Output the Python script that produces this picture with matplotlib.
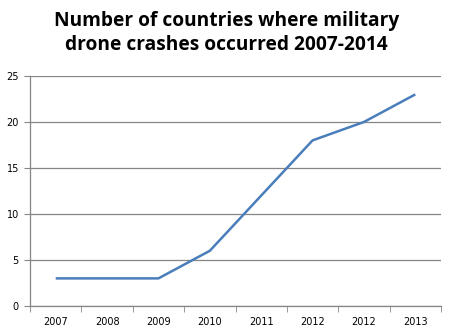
import numpy as np
import matplotlib
matplotlib.use('Agg')
import matplotlib.pyplot as plt

years = ['2007', '2008', '2009', '2010', '2011', '2012', '2012', '2013']
countries = [3, 3, 3, 6, 12, 18, 20, 23]

fig = plt.figure(figsize=(4.5, 3.35), dpi=100)
ax = fig.add_axes([0.0667, 0.0866, 0.9133, 0.6866])

x = np.arange(len(years))
ax.plot(x, countries, color='#4a7ebb', linewidth=1.8, solid_capstyle='butt')

ax.set_xlim(-0.5, len(years) - 0.5)
ax.set_ylim(0, 25)
ax.set_yticks(range(0, 26, 5))
ax.yaxis.grid(True, color='#868686', linewidth=0.9)
ax.set_axisbelow(True)

ax.set_xticks(x)
ax.set_xticklabels(years)
ax.set_xticks(np.arange(-0.5, len(years)), minor=True)
ax.tick_params(axis='x', which='major', length=0, pad=8, labelsize=7)
ax.tick_params(axis='x', which='minor', length=4, color='#868686', direction='out')
ax.tick_params(axis='y', length=4, color='#868686', labelsize=7, pad=4)

for s in ['top', 'right']:
    ax.spines[s].set_visible(False)
for s in ['left', 'bottom']:
    ax.spines[s].set_color('#868686')
    ax.spines[s].set_linewidth(0.9)

fig.text(0.503, 0.902, 'Number of countries where military\ndrone crashes occurred 2007-2014',
         ha='center', va='center', fontsize=13.8, fontweight='bold',
         family='Open Sans', linespacing=1.3)

fig.savefig('out.png', dpi=100)
